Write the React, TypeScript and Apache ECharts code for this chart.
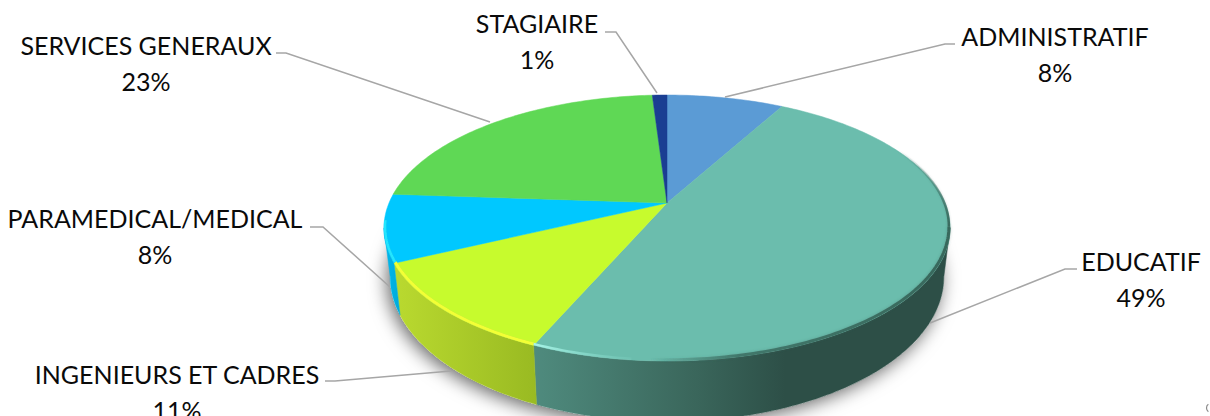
import React, { useEffect, useRef } from "react";
import * as echarts from "echarts";

const CATEGORIES = ["ADMINISTRATIF", "EDUCATIF", "INGENIEURS ET CADRES", "PARAMEDICAL/MEDICAL", "SERVICES GENERAUX", "STAGIAIRE"];
const VALUES = [8, 48.5, 11.4, 8.2, 22.9, 1];
const PERCENT_LABELS = ["8%", "49%", "11%", "8%", "23%", "1%"];

// ---- Layout and styles ----
const TOP_COLORS = ["#5B9BD5", "#6BBDAD", "#C7FB2D", "#00C8FF", "#5FD855", "#1A3E92"];
const LABEL_POS: [number, number][] = [[1055, 54], [1141, 279], [177, 392], [155, 236], [146, 63], [537, 41]];
const LEADERS: [number, number][][] = [
  [[955, 44], [945, 44], [725, 97]],
  [[1077, 269], [1065, 269], [930, 323]],
  [[325, 381], [335, 381], [451, 371]],
  [[310, 227], [323, 227], [390, 287]],
  [[276, 53], [286, 53], [490, 122]],
  [[605, 32], [616, 32], [657, 93]],
];
const AX = 667, AY = 203, A = 278, B = 128.3, K = 0.188;
const THETA_R = 100.8, THETA_L = 259.2;

const total = VALUES.reduce((s, v) => s + v, 0);
const spans = VALUES.map((_, i) => {
  const before = VALUES.slice(0, i).reduce((s, v) => s + v, 0);
  return [(before / total) * 360, ((before + VALUES[i]) / total) * 360];
});

// Perspective projection of the pie's circle, theta clockwise from the back
function top(t: number): [number, number] {
  const r = (t * Math.PI) / 180;
  const u = Math.sin(r), v = -Math.cos(r), w = 1 - K * v;
  return [AX + (A * u) / w, AY + (B * v) / w];
}
function bottom(t: number): [number, number] {
  const [x, y] = top(t);
  return [AX + 0.978 * (x - AX), y + 52 + 0.0886 * (y - 264)];
}
function inner(t: number): [number, number] {
  const [x, y] = top(t);
  return [AX + 0.996 * (x - AX), y - 1.2];
}
function arc(a: number, b: number, f: (t: number) => [number, number]) {
  const n = Math.max(2, Math.ceil(Math.abs(b - a)));
  const out: [number, number][] = [];
  for (let i = 0; i <= n; i++) out.push(f(a + ((b - a) * i) / n));
  return out;
}
const gradX = (x0: number, x1: number, stops: [number, string][]) =>
  new echarts.graphic.LinearGradient(x0, 0, x1, 0, stops.map(([offset, color]) => ({ offset, color })), true);
const gradY = (y0: number, y1: number, stops: [number, string][]) =>
  new echarts.graphic.LinearGradient(0, y0, 0, y1, stops.map(([offset, color]) => ({ offset, color })), true);

const WALL_FILLS: any[] = [
  null,
  gradX(533, 830, [[0, "#4F8B7E"], [0.55, "#3A665B"], [0.85, "#2D4F47"], [1, "#2D4F47"]]),
  gradX(397, 537, [[0, "#B9D92F"], [1, "#99BA22"]]),
  gradX(385, 402, [[0, "#00B8EC"], [1, "#00A8D8"]]),
  null,
  null,
];

// Bevel strokes along the rim: [from angle, to angle, stroke, width, blur]
const RIMS: [number, number, any, number, number][] = [
  [204, 186, gradX(533, 650, [[0, "#A8F5E8"], [1, "rgba(130,215,200,0)"]]), 2.5, 0],
  [190, 100.8, gradX(650, 950, [[0, "rgba(59,110,98,0)"], [0.3, "rgba(59,110,98,0.85)"], [1, "#38685C"]]), 3, 3],
  [100.8, 58, gradY(150, 228, [[0, "rgba(59,110,98,0)"], [1, "#38685C"]]), 2.5, 2],
  [203.5, 244.4, "#F2FF35", 3, 1],
  [244.4, 262, "#24E6FF", 2.5, 1],
];

export default function App() {
  const ref = useRef<HTMLDivElement>(null);
  useEffect(() => {
    document.body.style.margin = "0";
    document.body.style.overflow = "hidden";
    const chart = echarts.init(ref.current!, undefined, { renderer: "svg" });
    const data = VALUES.map((v, i) => ({ name: CATEGORIES[i], value: v }));
    chart.setOption({
      animation: false,
      backgroundColor: "#FFFFFF",
      series: [
        {
          type: "custom", coordinateSystem: "none", silent: true, data: [0],
          renderItem: () => ({
            type: "polygon",
            shape: { points: arc(0, 360, bottom) },
            style: { fill: "#FFFFFF", shadowBlur: 18, shadowColor: "rgba(0,0,0,0.6)", shadowOffsetX: -3, shadowOffsetY: 4 },
          }),
        },
        {
          type: "custom", coordinateSystem: "none", silent: true, data,
          renderItem: (p: any) => {
            const i = p.dataIndex;
            const a = Math.max(spans[i][0], THETA_R), b = Math.min(spans[i][1], THETA_L);
            if (b <= a) return { type: "group", children: [] };
            const pts = [...arc(a, b, top), ...arc(a, b, bottom).reverse()];
            return { type: "polygon", shape: { points: pts }, style: { fill: WALL_FILLS[i], stroke: WALL_FILLS[i], lineWidth: 0.5 } };
          },
        },
        {
          type: "custom", coordinateSystem: "none", silent: true, data,
          renderItem: (p: any) => {
            const i = p.dataIndex;
            const [a, b] = spans[i];
            const pts = [[AX, AY], ...arc(a, b, top)];
            return { type: "polygon", shape: { points: pts }, style: { fill: TOP_COLORS[i], stroke: TOP_COLORS[i], lineWidth: 0.5 } };
          },
        },
      ],
      graphic: [
        ...RIMS.map(([a, b, stroke, lineWidth, blur]) => ({
          type: "polyline", silent: true, z: 5,
          shape: { points: arc(a, b, inner) },
          style: blur
            ? { fill: "none", stroke, lineWidth, shadowBlur: blur, shadowColor: "rgba(60,100,90,0.35)" }
            : { fill: "none", stroke, lineWidth },
        })),
        ...LEADERS.map((pts) => ({
          type: "polyline", silent: true, z: 10,
          shape: { points: pts },
          style: { fill: "none", stroke: "#A6A6A6", lineWidth: 1.5 },
        })),
        ...CATEGORIES.map((c, i) => ({
          type: "text", silent: true, z: 11,
          x: LABEL_POS[i][0], y: LABEL_POS[i][1],
          style: {
            text: c + "\n" + PERCENT_LABELS[i],
            fill: "#0A0A0A",
            font: "25px Lato",
            lineHeight: 36,
            align: "center",
            verticalAlign: "middle",
          },
        })),
        {
          type: "arc", silent: true, z: 10,
          shape: { cx: 1211, cy: 408, r: 4.5, startAngle: Math.PI * 0.7, endAngle: Math.PI * 1.3 },
          style: { fill: "none", stroke: "#8A8A8A", lineWidth: 1.2 },
        },
      ],
    });
    return () => chart.dispose();
  }, []);
  return <div ref={ref} style={{ position: "absolute", left: 0, top: 0, width: 1210, height: 416 }} />;
}
